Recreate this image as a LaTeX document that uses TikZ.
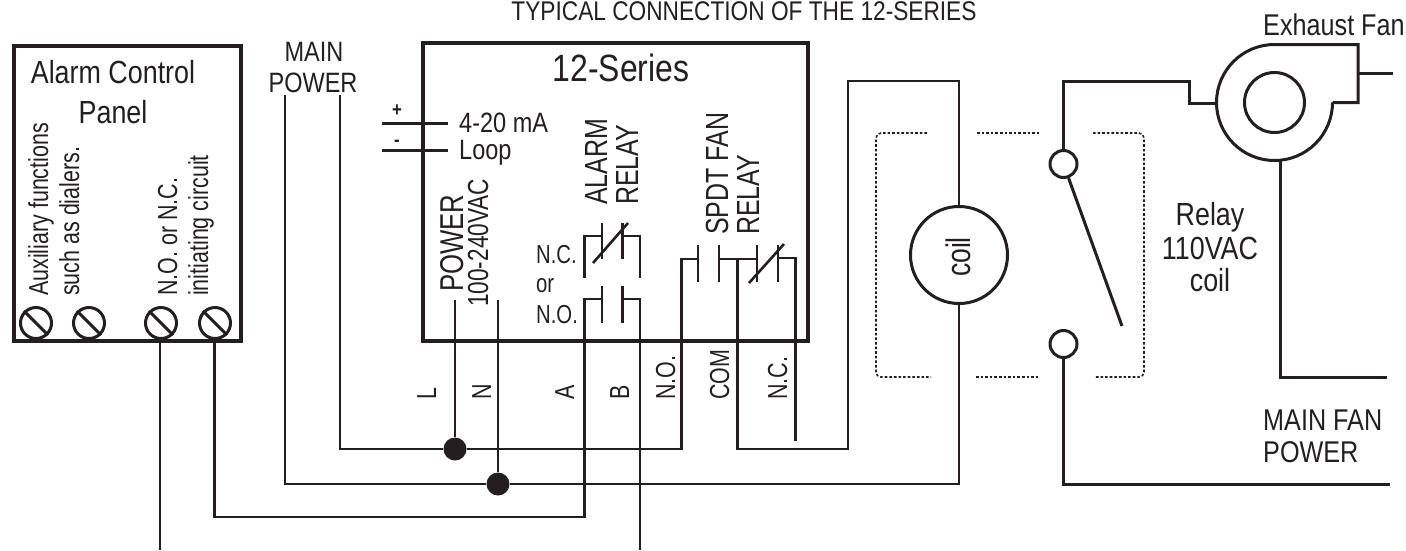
\documentclass[tikz,border=0pt]{standalone}
\usepackage{fontspec}
\setmainfont[FakeStretch=0.84]{Liberation Sans}
\newfontfamily\narrowfont[FakeStretch=0.78]{Liberation Sans}
\definecolor{inkblack}{HTML}{231F20}

\begin{document}
\begin{tikzpicture}[x=1pt,y=-1pt,draw=inkblack,text=inkblack]
    \tikzstyle{box}=[line width=4pt]
    \tikzstyle{wire}=[line width=3pt,line join=miter]
    \tikzstyle{thin wire}=[line width=2.6pt]
    \tikzstyle{screw}=[circle,draw,line width=3pt,minimum size=31pt,inner sep=0pt]
    \tikzstyle{terminal}=[circle,draw,line width=3pt,minimum size=27pt,inner sep=0pt]
    \tikzstyle{junction}=[circle,fill=inkblack,minimum size=23pt,inner sep=0pt]
    \tikzstyle{guard}=[line width=1.6pt,dash pattern=on 2.6pt off 2pt]
    \tikzstyle{label}=[inner sep=0pt,font=\fontsize{28}{28}\selectfont]
    \tikzstyle{side label}=[inner sep=0pt,rotate=90,anchor=base west,font=\narrowfont\fontsize{27.5}{27.5}\selectfont]
    \tikzstyle{tall label}=[side label,font=\narrowfont\fontsize{32}{32}\selectfont]
    \tikzstyle{small label}=[inner sep=0pt,anchor=west,font=\narrowfont\fontsize{26}{26}\selectfont]
    \tikzstyle{big label}=[label,font=\fontsize{32}{32}\selectfont]
    \tikzstyle{wide label}=[label,anchor=west,font=\fontsize{30}{30}\selectfont]

    \useasboundingbox (0,0) rectangle (1406,550);

    % Title is cut by the top of the page
    \node[label,anchor=base,font=\fontsize{27}{27}\selectfont] (title) at (744,20) {TYPICAL CONNECTION OF THE 12-SERIES};

    % Draw the alarm panel
    \draw[box] (14,46) rectangle (241,341);
    \node[big label] (panel-1) at (113,72) {Alarm Control};
    \node[big label] (panel-2) at (113,112) {Panel};
    \node[side label] (aux-1) at (48,296) {Auxiliary functions};
    \node[side label] (aux-2) at (79,296) {such as dialers.};
    \node[side label] (init-1) at (177,296) {N.O. or N.C.};
    \node[side label] (init-2) at (208,296) {initiating circuit};
    \foreach \name / \x in {1/36,2/89,3/161,4/215} {
        \node[screw] (S-\name) at (\x,323) {};
        \draw[wire] (S-\name.135) -- (S-\name.-45);
    }

    % Draw the controller
    \draw[box] (423,43) rectangle (808,341);
    \node[label,font=\fontsize{38}{38}\selectfont] (series) at (621,68) {12-Series};
    \node[label,anchor=west] (loop-1) at (459,123) {4-20 mA};
    \node[label,anchor=west] (loop-2) at (459,153) {Loop};
    \node[label,font=\bfseries\fontsize{20}{20}\selectfont] (plus) at (397,111) {+};
    \node[label,font=\bfseries\fontsize{20}{20}\selectfont] (minus) at (397,143) {-};
    \node[side label,font=\narrowfont\fontsize{33}{33}\selectfont] (pwr-1) at (463,292) {POWER};
    \node[side label,font=\narrowfont\fontsize{29}{29}\selectfont] (pwr-2) at (488,307) {100-240VAC};
    \node[tall label] (alarm-1) at (607,205) {ALARM};
    \node[tall label] (alarm-2) at (638,205) {RELAY};
    \node[tall label] (fan-1) at (728,235) {SPDT FAN};
    \node[tall label] (fan-2) at (759,235) {RELAY};
    \node[small label] (nc) at (536,255) {N.C.};
    \node[small label] (or) at (536,286) {or};
    \node[small label] (no) at (536,315) {N.O.};

    % Terminal letters under the box
    \foreach \name / \x / \txt in {L/436/L,N/491/N,A/574/A,B/629/B,NO/675/N.O.,COM/729/COM,NC/787/N.C.} {
        \node[side label] (T-\name) at (\x,400) {\txt};
    }

    % Names of the loose wire ends
    \coordinate (loop-a) at (382,123);
    \coordinate (loop-a2) at (448,123);
    \coordinate (loop-b) at (382,150);
    \coordinate (loop-b2) at (448,150);
    \coordinate (main-a) at (285,95);
    \coordinate (main-b) at (340,95);
    \coordinate (L-top) at (455,300);
    \coordinate (N-top) at (498,300);
    \coordinate (end-1) at (160,550);
    \coordinate (end-2) at (640,550);
    \coordinate (A-low) at (584.5,517);

    % Power wires and junctions
    \node[junction] (J-L) at (455,449) {};
    \node[junction] (J-N) at (498,484) {};
    \draw[thin wire] (L-top) -- (J-L);
    \draw[thin wire] (N-top) -- (J-N);
    \draw[wire] (loop-a) -- (loop-a2);
    \draw[wire] (loop-b) -- (loop-b2);

    % Alarm relay contacts
    \coordinate (nc-a) at (584.5,278);
    \coordinate (nc-b) at (602,236);
    \coordinate (nc-c) at (622.7,236);
    \coordinate (nc-d) at (640,278);
    \coordinate (bar-1a) at (602,223);
    \coordinate (bar-1b) at (602,259);
    \coordinate (bar-2a) at (622.7,223);
    \coordinate (bar-2b) at (622.7,259);
    \coordinate (cut-1a) at (593,263);
    \coordinate (cut-1b) at (628,223);
    \draw[thin wire] (nc-a) |- (nc-b);
    \draw[thin wire] (nc-d) |- (nc-c);
    \draw[thin wire] (bar-1a) -- (bar-1b);
    \draw[thin wire] (bar-2a) -- (bar-2b);
    \draw[thin wire] (cut-1a) -- (cut-1b);

    \coordinate (no-b) at (602,299);
    \coordinate (no-c) at (622.7,299);
    \coordinate (bar-3a) at (602,286);
    \coordinate (bar-3b) at (602,323);
    \coordinate (bar-4a) at (622.7,286);
    \coordinate (bar-4b) at (622.7,323);
    \draw[thin wire] (bar-3a) -- (bar-3b);
    \draw[thin wire] (bar-4a) -- (bar-4b);

    % Fan relay contacts
    \coordinate (fan-a) at (698,259);
    \coordinate (fan-b) at (719,259);
    \coordinate (fan-c) at (757,259);
    \coordinate (fan-d) at (778,258);
    \coordinate (com-top) at (737.7,259);
    \coordinate (nc-end) at (795.5,441);
    \coordinate (bar-5a) at (698,245);
    \coordinate (bar-5b) at (698,282);
    \coordinate (bar-6a) at (719,245);
    \coordinate (bar-6b) at (719,282);
    \coordinate (bar-7a) at (757,245);
    \coordinate (bar-7b) at (757,282);
    \coordinate (bar-8a) at (778,245);
    \coordinate (bar-8b) at (778,282);
    \coordinate (cut-2a) at (749,283);
    \coordinate (cut-2b) at (784,244);
    \draw[thin wire] (bar-5a) -- (bar-5b);
    \draw[thin wire] (bar-6a) -- (bar-6b);
    \draw[thin wire] (bar-7a) -- (bar-7b);
    \draw[thin wire] (bar-8a) -- (bar-8b);
    \draw[thin wire] (cut-2a) -- (cut-2b);
    \draw[thin wire] (fan-b) -- (fan-c);
    \draw[thin wire] (nc-end) |- (fan-d);

    % Relay coil and switch
    \node[circle,draw,line width=3pt,minimum size=97pt,inner sep=0pt] (coil) at (959,255) {};
    \node[side label,anchor=base,font=\narrowfont\fontsize{34}{34}\selectfont] (coil-txt) at (970.5,257) {coil};
    \node[terminal] (sw-1) at (1063.5,164) {};
    \node[terminal] (sw-2) at (1063.5,344) {};
    \node[big label] (relay-1) at (1210,217) {Relay};
    \node[big label] (relay-2) at (1210,248) {110VAC};
    \node[big label] (relay-3) at (1210,280) {coil};
    \coordinate (blade) at (1122,326);
    \draw[wire] (sw-1) -- (blade);

    % Dotted guard round the relay
    \coordinate (G-1) at (927,133);
    \coordinate (G-2) at (876,133);
    \coordinate (G-3) at (876,377);
    \coordinate (G-4) at (931,377);
    \coordinate (G-5) at (977,133);
    \coordinate (G-6) at (1039,133);
    \coordinate (G-7) at (976,377);
    \coordinate (G-8) at (1039,377);
    \coordinate (G-9) at (1093,133);
    \coordinate (G-10) at (1144,133);
    \coordinate (G-11) at (1144,377);
    \coordinate (G-12) at (1095,377);
    \draw[guard,rounded corners=5pt] (G-1) -- (G-2) -- (G-3) -- (G-4);
    \draw[guard] (G-5) -- (G-6);
    \draw[guard] (G-7) -- (G-8);
    \draw[guard,rounded corners=5pt] (G-9) -- (G-10) -- (G-11) -- (G-12);

    % Exhaust fan
    \coordinate (fan-c1) at (1274.5,102.5);
    \coordinate (fan-r) at (1332.5,102.5);
    \coordinate (fan-t) at (1358,44.5);
    \coordinate (fan-s) at (1358,102.5);
    \node[circle,draw,line width=3pt,minimum size=60pt,inner sep=0pt] (rotor) at (fan-c1) {};
    \draw[wire] (fan-r) arc[start angle=0,end angle=270,radius=58] -- (fan-t) -- (fan-s) -- (fan-r);
    \coordinate (fan-in) at (1216.5,103.5);
    \coordinate (fan-out) at (1358,73);
    \coordinate (fan-out2) at (1393,73);
    \coordinate (fan-low) at (1280,160);
    \coordinate (fan-low2) at (1387,377);
    \coordinate (top-1) at (1189.5,81);
    \coordinate (mains-low) at (1390,484);
    \draw[wire] (fan-out) -- (fan-out2);
    \draw[wire] (fan-low) |- (fan-low2);
    \draw[wire] (sw-1) |- (top-1) |- (fan-in);
    \draw[wire] (sw-2) |- (mains-low);
    \node[wide label] (exhaust) at (1263,25) {Exhaust Fan};
    \node[wide label] (fan-pwr-1) at (1263,420) {MAIN FAN};
    \node[wide label] (fan-pwr-2) at (1263,452) {POWER};

    % Main power label
    \node[label] (main-1) at (314,52) {MAIN};
    \node[label] (main-2) at (313,83) {POWER};

    % Long wires across the sheet
    \coordinate (A-bot) at (214.5,517);
    \coordinate (S4-low) at (214.5,343);
    \coordinate (S3-low) at (160,343);
    \coordinate (A-up) at (584.5,341);
    \coordinate (B-up) at (640,278);
    \coordinate (NO-low) at (681.5,449);
    \coordinate (COM-low) at (737.7,449);
    \coordinate (coil-up) at (848,81);
    \draw[thin wire] (S3-low) -- (end-1);
    \draw[thin wire] (S4-low) |- (A-low) |- (no-b);
    \draw[thin wire] (end-2) |- (no-c);
    \draw[thin wire] (main-b) |- (J-L) -| (NO-low) |- (fan-a);
    \draw[thin wire] (main-a) |- (J-N) -| (coil.south);
    \draw[thin wire] (com-top) |- (COM-low) -| (coil-up) -| (coil.north);
\end{tikzpicture}
\end{document}
